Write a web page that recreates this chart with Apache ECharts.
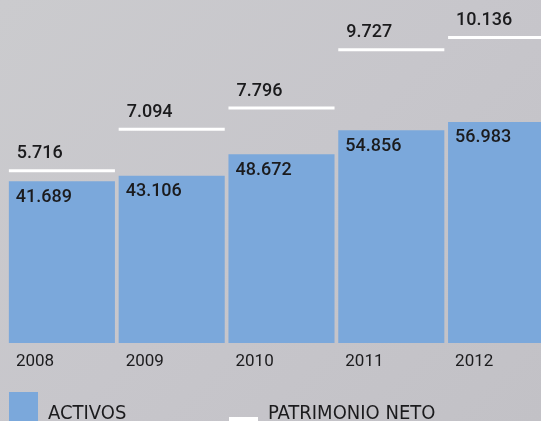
<!DOCTYPE html>
<html>
<head>
<meta charset="utf-8">
<script src="https://cdn.jsdelivr.net/npm/echarts@6/dist/echarts.min.js"></script>
<style>
  html, body { margin: 0; padding: 0; }
  #main {
    width: 541px; height: 421px;
    background: linear-gradient(135deg, #cbcbce 0%, #c7c6cb 50%, #c2c1c6 100%);
  }
</style>
</head>
<body>
<div id="main"></div>
<script>
// datos (millones)
var years = ['2008', '2009', '2010', '2011', '2012'];
var activos = [41.689, 43.106, 48.672, 54.856, 56.983];
var patrimonio = [5.716, 7.094, 7.796, 9.727, 10.136];
var legendNames = ['ACTIVOS', 'PATRIMONIO NETO'];

var textColor = '#1b1b1d';
var barColor = '#7ba8db';

var legendText = {
    fontFamily: '"Liberation Sans Narrow", "DejaVu Sans Condensed", sans-serif',
    fontSize: 20,
    color: textColor,
    padding: [0, 0, 0, 5]
};

var chart = echarts.init(document.getElementById('main'));

chart.setOption({
    backgroundColor: 'transparent',
    animation: false,
    grid: { left: 7, top: 0, width: 549, bottom: 78, containLabel: false, outerBoundsMode: 'none' },
    legend: [
        {
            left: 9, top: 392, padding: 0,
            itemWidth: 29, itemHeight: 44,
            selectedMode: false,
            textStyle: legendText,
            data: [{ name: legendNames[0], icon: 'path://M0,44M0,0h29v29h-29z' }]
        },
        {
            left: 229, top: 392, padding: 0,
            itemWidth: 29, itemHeight: 44,
            selectedMode: false,
            textStyle: legendText,
            data: [{ name: legendNames[1], icon: 'path://M0,0M0,44M0,25h29v5h-29z' }]
        }
    ],
    xAxis: {
        type: 'category',
        data: years,
        axisLine: { show: false },
        axisTick: { show: false },
        axisLabel: {
            interval: 0,
            align: 'left',
            margin: 10,
            padding: [0, 0, 0, -46],
            fontFamily: 'Roboto',
            fontSize: 17,
            color: textColor
        }
    },
    yAxis: [
        { type: 'value', min: 0, max: 88.4, show: false },
        { type: 'value', min: 0, max: 11.38, show: false }
    ],
    series: [
        {
            name: legendNames[0],
            type: 'bar',
            yAxisIndex: 0,
            barWidth: '96.6%',
            data: activos,
            itemStyle: { color: barColor },
            label: {
                show: true,
                position: [7, 7],
                formatter: function (p) { return p.value.toFixed(3); },
                fontFamily: 'Roboto',
                fontWeight: 500,
                fontSize: 18,
                color: textColor
            }
        },
        {
            name: legendNames[1],
            type: 'custom',
            yAxisIndex: 1,
            itemStyle: { color: '#ffffff' },
            data: patrimonio.map(function (v, i) { return [i, v]; }),
            renderItem: function (params, api) {
                var p = api.coord([api.value(0), api.value(1)]);
                var w = api.size([1, 0])[0] * 0.966;
                var x0 = p[0] - w / 2;
                return {
                    type: 'group',
                    children: [
                        {
                            type: 'rect',
                            shape: { x: x0, y: p[1] - 1.5, width: w, height: 3 },
                            style: { fill: api.visual('color') }
                        },
                        {
                            type: 'text',
                            style: {
                                text: api.value(1).toFixed(3),
                                x: x0 + 8,
                                y: p[1] - 17,
                                verticalAlign: 'middle',
                                align: 'left',
                                fontFamily: 'Roboto',
                                fontWeight: 500,
                                fontSize: 18,
                                fill: textColor
                            }
                        }
                    ]
                };
            }
        }
    ]
});
</script>
</body>
</html>
